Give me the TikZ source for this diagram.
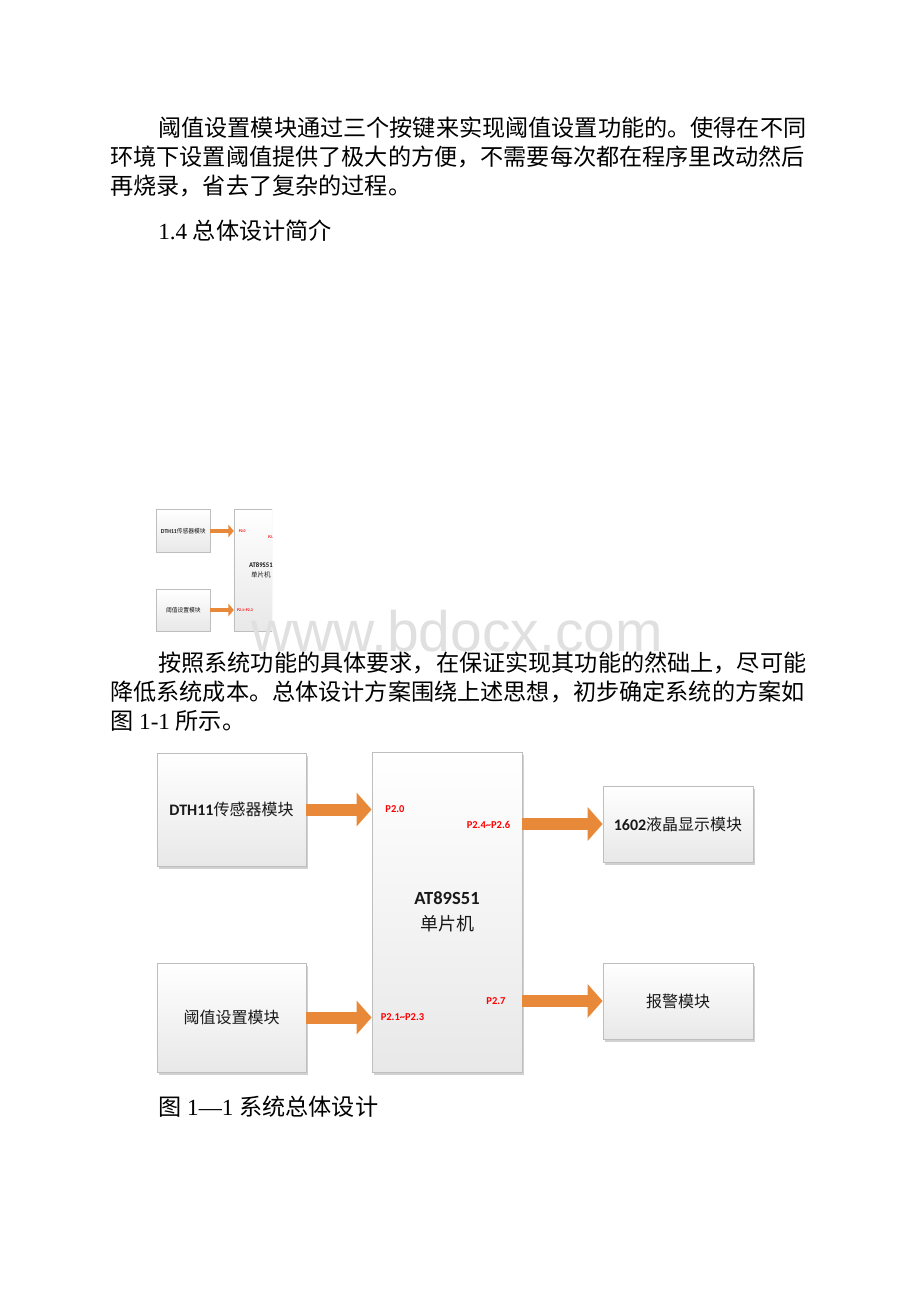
\documentclass[tikz,border=0pt]{standalone}
\usepackage{fontspec}
\setmainfont{Liberation Serif}
\newfontfamily\zhfont{Noto Sans CJK SC}
\newfontfamily\calib{Carlito}
\newfontfamily\wmfont{Liberation Sans}
\usetikzlibrary{arrows.meta,shadows,calc}
\definecolor{arrorange}{RGB}{232,137,58}
\definecolor{boxline}{RGB}{190,190,190}
\definecolor{pinred}{RGB}{255,0,0}
\tikzset{
 modbox/.style={draw=boxline, line width=0.6pt, top color=white, bottom color=black!9,
   drop shadow={shadow xshift=1.5pt, shadow yshift=-1.9pt, fill=black!40, opacity=0.45},
   text=black!90, inner sep=0pt, align=center, font=\fontsize{12}{14}\selectfont},
 blockarrow/.style={draw=arrorange, line width=9pt, -{Triangle[width=24.75pt,length=11.25pt]}},
 pinlabel/.style={text=pinred, font=\calib\bfseries\fontsize{7.9}{9}\selectfont, inner sep=0pt},
 bodyline/.style={anchor=base west, inner sep=0pt, font=\fontsize{17.36}{20}\selectfont},
}
\newcommand\blockdiagram[1]{%
  \node[modbox, minimum width=111.75pt, minimum height=84.75pt] (#1dth) at (231.5,809.5)
     {{\calib\bfseries DTH11}{\zhfont 传感器模块}};
  \node[modbox, minimum width=111.75pt, minimum height=81.75pt] (#1thr) at (231.5,1017.5)
     {\zhfont 阈值设置模块};
  \node[modbox, minimum width=112.5pt, minimum height=240pt, font=\fontsize{13.9}{19.5}\selectfont] (#1mcu) at (447,912)
     {{\calib\bfseries AT89S51}\\{\zhfont\fontsize{13.5}{19.5}\selectfont 单片机}};
  \node[modbox, minimum width=112.5pt, minimum height=57pt] (#1lcd) at (678,824)
     {{\calib\bfseries 1602}{\zhfont 液晶显示模块}};
  \node[modbox, minimum width=112.5pt, minimum height=57pt] (#1alm) at (678,1001)
     {\zhfont 报警模块};
  \draw[blockarrow] (#1dth.east) -- (#1dth.east -| #1mcu.west);
  \draw[blockarrow] (#1thr.east) -- (#1thr.east -| #1mcu.west);
  \draw[blockarrow] (#1lcd.west -| #1mcu.east) -- (#1lcd.west);
  \draw[blockarrow] (#1alm.west -| #1mcu.east) -- (#1alm.west);
  \node[pinlabel] (#1p20) at (395,809) {P2.0};
  \node[pinlabel] (#1p24) at (488.5,825) {P2.4\char"7E P2.6};
  \node[pinlabel] (#1p21) at (402.5,1017) {P2.1\char"7E P2.3};
  \node[pinlabel] (#1p27) at (496,1001) {P2.7};
}
\begin{document}
\begin{tikzpicture}[x=0.75pt,y=-0.75pt]
\useasboundingbox[fill=white] (0,0) rectangle (920,1302);
% thumbnail copy of the diagram (clipped)
\begin{scope}
  \clip (140,495) rectangle (272,650);
  \begin{scope}[transform canvas={shift={(74.99pt,-167.52pt)},xscale=0.36,yscale=0.38}]
    \blockdiagram{t}
  \end{scope}
\end{scope}
% watermark
\node[font=\wmfont\fontsize{42.75}{50}\selectfont, text=black!12, anchor=base, inner sep=0pt, text depth=0pt] (wm) at (457,651) {www.bdocx.com};
% body text
\node[bodyline] (l1) at (158,136.5) {\zhfont 阈值设置模块通过三个按键来实现阈值设置功能的。使得在不同};
\node[bodyline] (l2) at (110,165.5) {\zhfont 环境下设置阈值提供了极大的方便，不需要每次都在程序里改动然后};
\node[bodyline] (l3) at (110,194.5) {\zhfont 再烧录，省去了复杂的过程。};
\node[bodyline] (h1) at (158,239.5) {1.4 {\zhfont 总体设计简介}};
\node[bodyline] (m1) at (158,671.5) {\zhfont 按照系统功能的具体要求，在保证实现其功能的然础上，尽可能};
\node[bodyline] (m2) at (110,700.5) {\zhfont 降低系统成本。总体设计方案围绕上述思想，初步确定系统的方案如};
\node[bodyline] (m3) at (110,729.5) {{\zhfont 图} 1-1 {\zhfont 所示。}};
% main diagram
\blockdiagram{m}
\node[bodyline] (cap) at (158,1115.5) {{\zhfont 图} 1—1 {\zhfont 系统总体设计}};
\end{tikzpicture}
\end{document}
